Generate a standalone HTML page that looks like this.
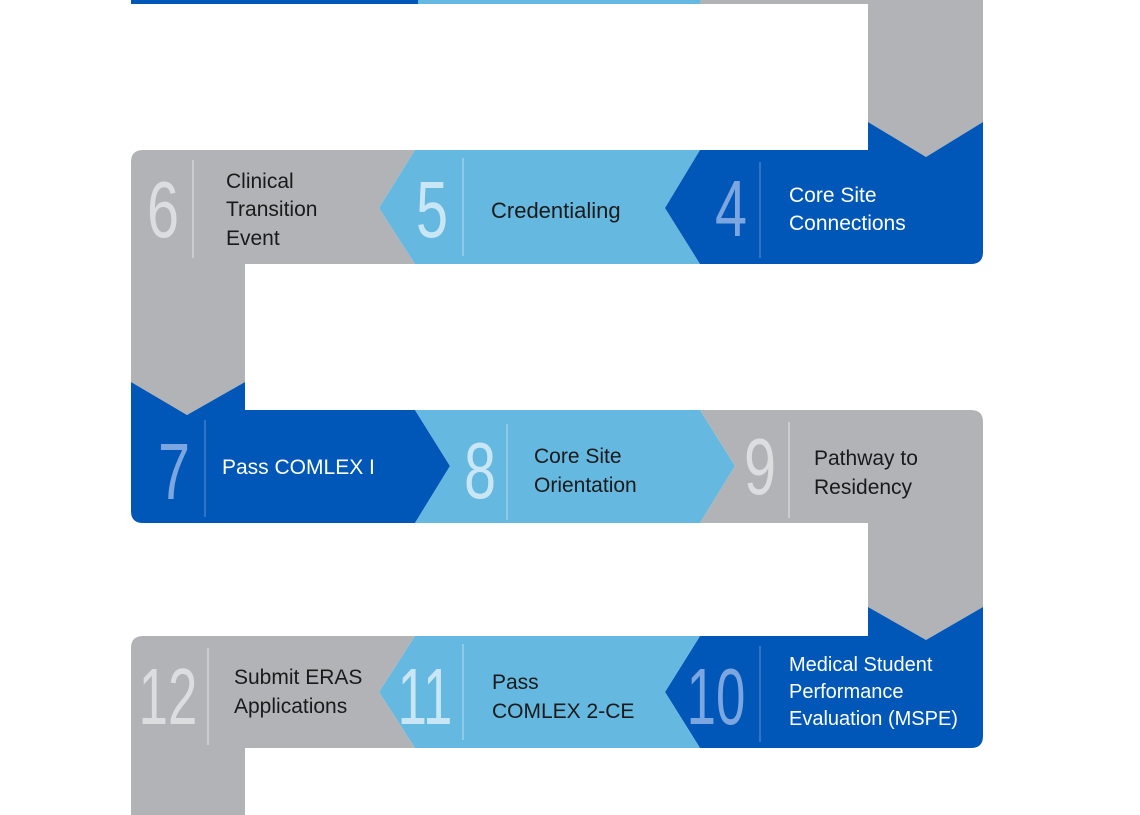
<!DOCTYPE html>
<html><head><meta charset="utf-8"><style>
html,body{margin:0;padding:0;background:#fff;}
svg{display:block}
.t{font-family:"Liberation Sans",sans-serif;font-size:21px;}
.n{font-family:"Liberation Sans",sans-serif;font-size:80px;text-anchor:middle;}
</style></head><body>
<svg width="1140" height="815" viewBox="0 0 1140 815" xmlns="http://www.w3.org/2000/svg">
<rect x="131" y="0" width="288" height="4" fill="#0057b8"/>
<rect x="418" y="0" width="283" height="4" fill="#65b8e0"/>
<rect x="700" y="0" width="283" height="4" fill="#b2b3b6"/>
<polygon points="868,0 983,0 983,122 926,157 868,122" fill="#b2b3b6"/>
<path d="M143,150 L415,150 L379,208 L415,264 L245,264 L245,382 L187,415 L131,382 L131,162 Q131,150 143,150Z" fill="#b2b3b6"/>
<polygon points="415,150 700,150 665,208 700,264 415,264 379,208" fill="#65b8e0"/>
<path d="M700,150 L868,150 L868,122 L926,157 L983,122 L983,252 Q983,264 971,264 L700,264 L665,208Z" fill="#0057b8"/>
<path d="M131,382 L187,415 L245,382 L245,410 L415,410 L450,466 L415,523 L143,523 Q131,523 131,511Z" fill="#0057b8"/>
<polygon points="415,410 700,410 735,466 700,523 415,523 450,466" fill="#65b8e0"/>
<path d="M700,410 L971,410 Q983,410 983,422 L983,607 L926,640 L868,607 L868,523 L700,523 L735,466Z" fill="#b2b3b6"/>
<path d="M700,636 L868,636 L868,607 L926,640 L983,607 L983,736 Q983,748 971,748 L700,748 L665,692Z" fill="#0057b8"/>
<polygon points="415,636 700,636 665,692 700,748 415,748 379,692" fill="#65b8e0"/>
<path d="M143,636 L415,636 L379,692 L415,748 L245,748 L245,815 L131,815 L131,648 Q131,636 143,636Z" fill="#b2b3b6"/>

<g stroke-width="1.5">
<line x1="193" y1="160" x2="193" y2="258" stroke="#d3d4d6"/>
<line x1="463" y1="158" x2="463" y2="256" stroke="#9dd1ec"/>
<line x1="760" y1="162" x2="760" y2="258" stroke="#3f7fcc"/>
<line x1="205" y1="420" x2="205" y2="517" stroke="#3f7fcc"/>
<line x1="507" y1="424" x2="507" y2="520" stroke="#9dd1ec"/>
<line x1="789" y1="422" x2="789" y2="518" stroke="#d3d4d6"/>
<line x1="208" y1="648" x2="208" y2="745" stroke="#d3d4d6"/>
<line x1="463" y1="644" x2="463" y2="740" stroke="#9dd1ec"/>
<line x1="760" y1="646" x2="760" y2="742" stroke="#3f7fcc"/>
</g>

<g class="n">
<text transform="translate(163,237) scale(0.72,1)" fill="#dcdddf">6</text>
<text transform="translate(432,237) scale(0.72,1)" fill="#c8e6f5">5</text>
<text transform="translate(731,236) scale(0.72,1)" fill="#7ba6df">4</text>
<text transform="translate(174,499) scale(0.72,1)" fill="#7ba6df">7</text>
<text transform="translate(480,498) scale(0.72,1)" fill="#c8e6f5">8</text>
<text transform="translate(760,494) scale(0.72,1)" fill="#dcdddf">9</text>
<text transform="translate(168,724) scale(0.66,1)" fill="#dcdddf">12</text>
<text transform="translate(425,724) scale(0.66,1)" fill="#c8e6f5">11</text>
<text transform="translate(716,724) scale(0.66,1)" fill="#7ba6df">10</text>
</g>

<g class="t" fill="#1a1a1a">
<text x="226" y="188">Clinical</text>
<text x="226" y="216">Transition</text>
<text x="226" y="245">Event</text>
<text x="491" y="218" style="font-size:22px">Credentialing</text>
<text x="534" y="463">Core Site</text>
<text x="534" y="492">Orientation</text>
<text x="814" y="465">Pathway to</text>
<text x="814" y="494">Residency</text>
<text x="234" y="684">Submit ERAS</text>
<text x="234" y="713">Applications</text>
<text x="492" y="689">Pass</text>
<text x="492" y="718">COMLEX 2-CE</text>
</g>
<g class="t" fill="#ffffff">
<text x="789" y="202">Core Site</text>
<text x="789" y="230">Connections</text>
<text x="222" y="474">Pass COMLEX I</text>
<text x="789" y="671" style="font-size:20px">Medical Student</text>
<text x="789" y="698" style="font-size:20px">Performance</text>
<text x="789" y="725" style="font-size:20px">Evaluation (MSPE)</text>
</g>
</svg>
</body></html>
